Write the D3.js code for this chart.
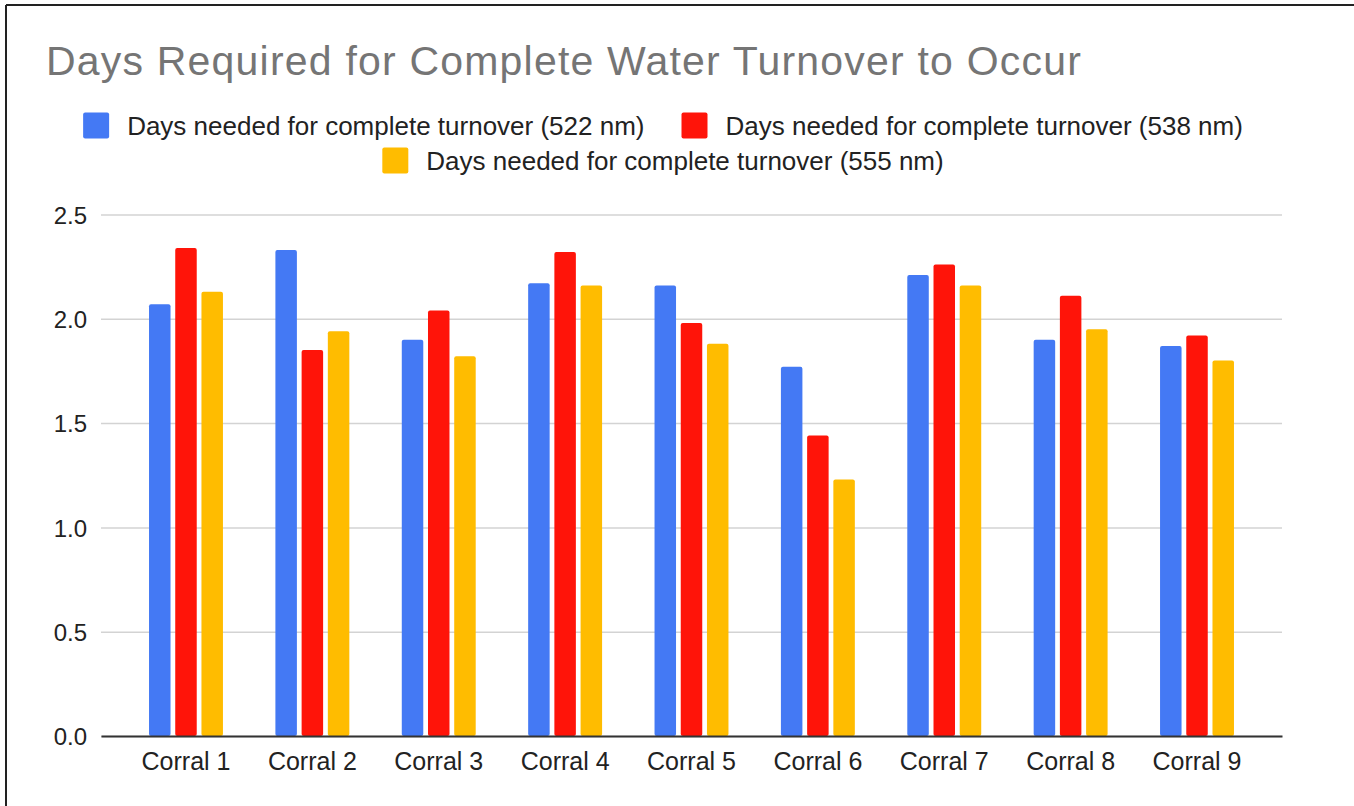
<!DOCTYPE html>
<html>
<head>
<meta charset="utf-8">
<script src="https://cdn.jsdelivr.net/npm/d3@7"></script>
<style>
  html, body { margin: 0; padding: 0; background: #fff; }
  #chart { width: 1354px; height: 806px; }
  text { font-family: "Liberation Sans", Arial, sans-serif; }
</style>
</head>
<body>
<div id="chart"></div>
<script>
// Data
const corrals = ["Corral 1", "Corral 2", "Corral 3", "Corral 4", "Corral 5", "Corral 6", "Corral 7", "Corral 8", "Corral 9"];
const seriesNames = [
    "Days needed for complete turnover (522 nm)",
    "Days needed for complete turnover (538 nm)",
    "Days needed for complete turnover (555 nm)"
];
const days522 = [2.07, 2.33, 1.90, 2.17, 2.16, 1.77, 2.21, 1.90, 1.87];
const days538 = [2.34, 1.85, 2.04, 2.32, 1.98, 1.44, 2.26, 2.11, 1.92];
const days555 = [2.13, 1.94, 1.82, 2.16, 1.88, 1.23, 2.16, 1.95, 1.80];
const yTicks = [0, 0.5, 1.0, 1.5, 2.0, 2.5];
const colors = ["#4479f4", "#ff1409", "#ffbc00"];

const allSeries = [days522, days538, days555];
const data = corrals.map((c, i) => ({
    corral: c,
    values: allSeries.map((s, k) => ({ key: k, value: s[i] }))
}));

const W = 1354, H = 806;
const margin = { top: 214.5, right: 72, bottom: 70, left: 101 },
    width = W - margin.left - margin.right,
    height = H - margin.top - margin.bottom;

const root = d3.select("#chart").append("svg")
    .attr("width", W)
    .attr("height", H);

// Frame (top and left edge of the screenshot)
root.append("line")
    .attr("x1", 6).attr("x2", W).attr("y1", 5).attr("y2", 5)
    .attr("stroke", "#222").attr("stroke-width", 2);
root.append("line")
    .attr("x1", 6).attr("x2", 6).attr("y1", 5).attr("y2", H)
    .attr("stroke", "#222").attr("stroke-width", 2);

// Title
root.append("text")
    .attr("x", 46)
    .attr("y", 75)
    .attr("fill", "#757575")
    .style("font-size", "41px")
    .style("letter-spacing", "1.2px")
    .text("Days Required for Complete Water Turnover to Occur");

const svg = root.append("g")
    .attr("transform", `translate(${margin.left},${margin.top})`);

// Scales
const x0 = d3.scaleBand()
    .domain(corrals)
    .range([0, width])
    .paddingInner(0.415)
    .paddingOuter(0.38);

const x1 = d3.scaleBand()
    .domain([0, 1, 2])
    .range([0, x0.bandwidth()])
    .paddingInner(0.18);

const y = d3.scaleLinear()
    .domain([0, 2.5])
    .range([height, 0]);

// Gridlines + y labels
const yAxis = svg.append("g")
    .call(d3.axisLeft(y)
        .tickValues(yTicks)
        .tickSize(-width)
        .tickPadding(14)
        .tickFormat(d3.format(".1f")));
yAxis.select(".domain").remove();
yAxis.selectAll(".tick line")
    .attr("stroke", "#d3d3d3")
    .attr("stroke-width", 1.5);
yAxis.selectAll(".tick text")
    .attr("fill", "#222")
    .style("font-size", "24px")
    .attr("dy", "0.36em");

// Bars
const groups = svg.selectAll(".group")
    .data(data)
    .enter()
    .append("g")
    .attr("class", "group")
    .attr("transform", d => `translate(${x0(d.corral)},0)`);

groups.selectAll("rect")
    .data(d => d.values)
    .enter()
    .append("rect")
    .attr("x", d => x1(d.key))
    .attr("y", d => y(d.value))
    .attr("width", x1.bandwidth())
    .attr("height", d => height - y(d.value))
    .attr("rx", 2)
    .attr("fill", d => colors[d.key]);

// X axis
const xAxis = svg.append("g")
    .attr("transform", `translate(0,${height})`)
    .call(d3.axisBottom(x0).tickSize(0).tickPadding(16));
xAxis.select(".domain")
    .attr("stroke", "#333")
    .attr("stroke-width", 2);
xAxis.selectAll(".tick text")
    .attr("fill", "#222")
    .style("font-size", "25px");

// Legend
const legendRows = [[0, 1], [2]];
const legendCenter = 663;
const legendRowY = [125.5, 160.5];
const sq = 26, sqGap = 18, itemGap = 37;

legendRows.forEach((row, r) => {
    const g = root.append("g");
    let xPos = 0;
    row.forEach(k => {
        const item = g.append("g").attr("transform", `translate(${xPos},0)`);
        item.append("rect")
            .attr("x", 0)
            .attr("y", legendRowY[r] - sq / 2)
            .attr("width", sq)
            .attr("height", sq)
            .attr("rx", 2)
            .attr("fill", colors[k]);
        const t = item.append("text")
            .attr("x", sq + sqGap)
            .attr("y", legendRowY[r])
            .attr("dy", "0.35em")
            .attr("fill", "#222")
            .style("font-size", "26px")
            .text(seriesNames[k]);
        xPos += sq + sqGap + t.node().getComputedTextLength() + itemGap;
    });
    const total = xPos - itemGap;
    g.attr("transform", `translate(${legendCenter - total / 2},0)`);
});
</script>
</body>
</html>
